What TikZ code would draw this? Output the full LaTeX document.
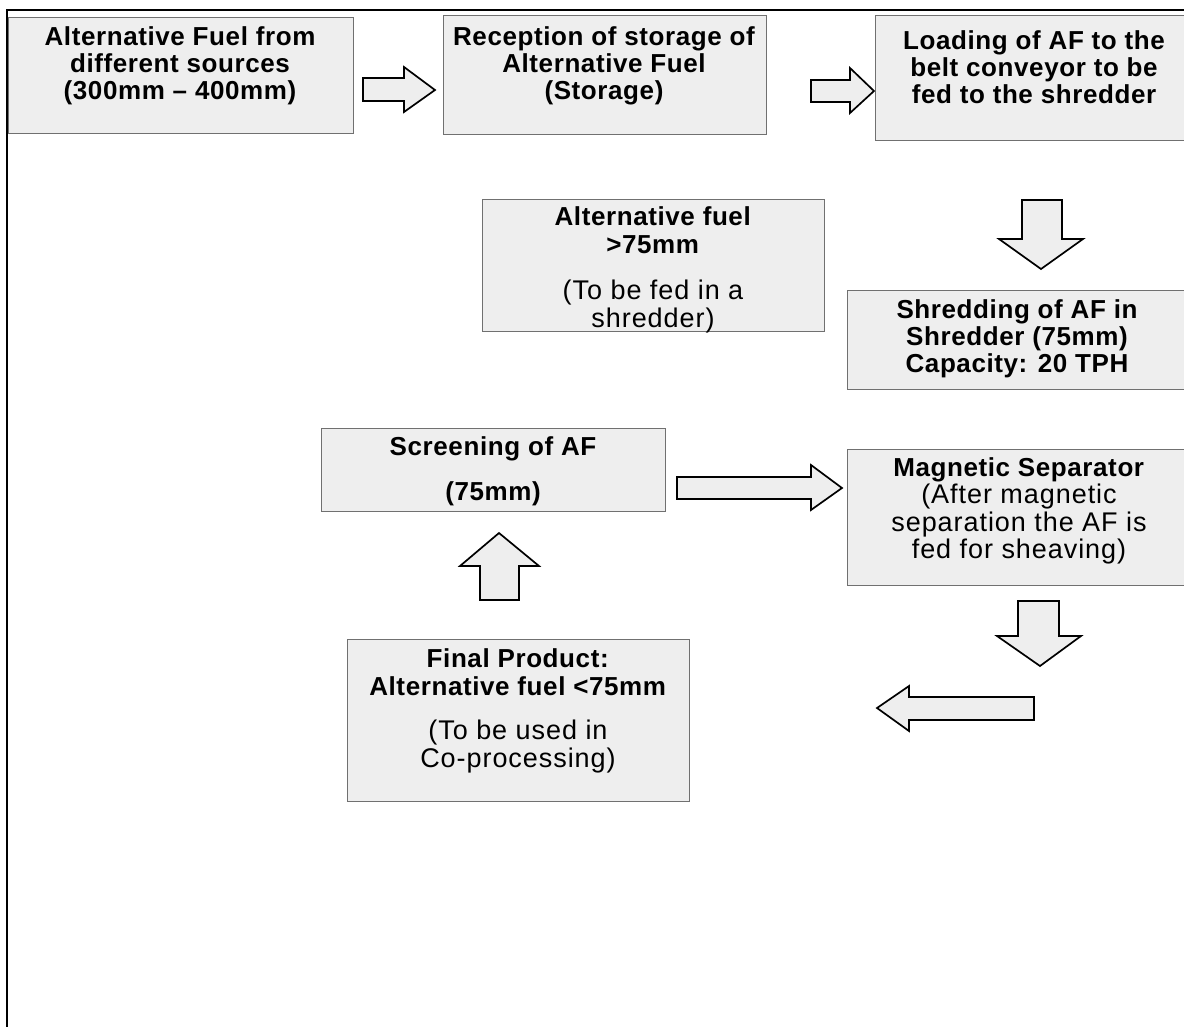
\documentclass[tikz,border=0pt]{standalone}
\usepackage{fontspec}
\setmainfont{Liberation Sans}[LetterSpace=2.3]
\newfontfamily\regfont{Liberation Sans}[LetterSpace=3.5]
\definecolor{boxfill}{HTML}{EEEEEE}
\definecolor{boxline}{HTML}{707070}
\newcommand{\rg}[1]{{\regfont\fontsize{27}{27}\selectfont #1}}
\begin{document}
\begin{tikzpicture}[x=1pt,y=-1pt,
  box/.style={draw=boxline, fill=boxfill, line width=1.4pt, inner sep=0pt, anchor=north west},
  txt/.style={align=center, inner sep=0pt, font=\fontsize{26}{27.5}\selectfont},
  hd/.style={txt, font=\fontsize{26}{27}\selectfont\bfseries},
  blockarrow/.style={draw=black, fill=boxfill, line width=1.7pt, line join=miter},
  frame/.style={draw=black, line width=2pt}]
\useasboundingbox (0,0) rectangle (1184,1026);
\clip (0,0) rectangle (1184,1026);

% outer frame (top and left edges)
\coordinate (fl) at (7,1030);
\coordinate (fc) at (7,10);
\coordinate (fr) at (1190,10);
\draw[frame] (fl) -- (fc) -- (fr);

% process boxes
\node[box, minimum width=345pt, minimum height=116pt] (src)    at (8,17)   {};
\node[box, minimum width=323pt, minimum height=119pt] (recv)   at (443,15) {};
\node[box, minimum width=330pt, minimum height=125pt] (load)   at (875,15) {};
\node[box, minimum width=342pt, minimum height=132pt] (big)    at (482,199) {};
\node[box, minimum width=350pt, minimum height=99pt]  (shred)  at (847,290) {};
\node[box, minimum width=344pt, minimum height=83pt]  (screen) at (321,428) {};
\node[box, minimum width=350pt, minimum height=136pt] (magnet) at (847,449) {};
\node[box, minimum width=342pt, minimum height=162pt] (final)  at (347,639) {};

% box texts
\node[hd] (tsrc) at (180,66) {Alternative Fuel from\\different sources\\(300mm – 400mm)};
\node[hd] (trecv) at (604,66) {Reception of storage of\\Alternative Fuel\\(Storage)};
\node[hd] (tload) at (1034,67) {Loading of AF to the\\belt conveyor to be\\fed to the shredder};
\node[txt] (tbig) at (653,270) {\textbf{Alternative fuel}\\\textbf{>75mm}\\[19pt]\rg{(To be fed in a}\\\rg{shredder)}};
\node[hd] (tshred) at (1017,339) {Shredding of AF in\\Shredder (75mm)\\Capacity: 20 TPH};
\node[hd] (tscreen) at (493,471) {Screening of AF\\[18pt](75mm)};
\node[txt] (tmagnet) at (1019,511) {\textbf{Magnetic Separator}\\\rg{(After magnetic}\\\rg{separation the AF is}\\\rg{fed for sheaving)}};
\node[txt] (tfinal) at (518,711) {\textbf{Final Product:}\\\textbf{Alternative fuel <75mm}\\[17pt]\rg{(To be used in}\\\rg{Co-processing)}};

% block arrows between the stages
\draw[blockarrow] (363,78) -- (404,78) -- (404,67) -- (435,90) -- (404,112) -- (404,101) -- (363,101) -- cycle;
\draw[blockarrow] (811,80) -- (850,80) -- (850,68) -- (874,91) -- (850,113) -- (850,102) -- (811,102) -- cycle;
\draw[blockarrow] (1022,200) -- (1062,200) -- (1062,239) -- (1083,239) -- (1041,269) -- (999,239) -- (1022,239) -- cycle;
\draw[blockarrow] (677,477) -- (811,477) -- (811,465) -- (842,488) -- (811,510) -- (811,499) -- (677,499) -- cycle;
\draw[blockarrow] (499,533) -- (539,566) -- (519,566) -- (519,600) -- (480,600) -- (480,566) -- (460,566) -- cycle;
\draw[blockarrow] (1018,601) -- (1059,601) -- (1059,636) -- (1081,636) -- (1040,666) -- (997,636) -- (1018,636) -- cycle;
\draw[blockarrow] (877,708) -- (909,686) -- (909,697) -- (1034,697) -- (1034,720) -- (909,720) -- (909,731) -- cycle;
\end{tikzpicture}
\end{document}
